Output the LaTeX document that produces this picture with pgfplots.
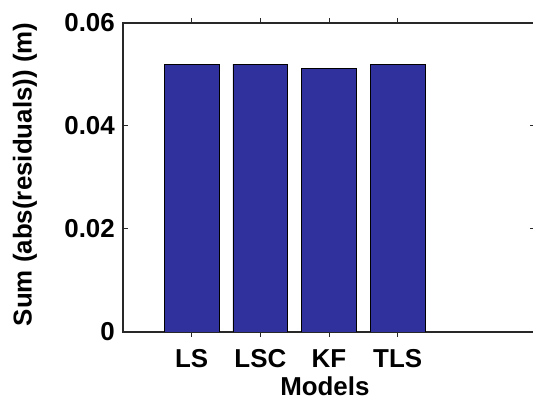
\documentclass[border=0pt]{standalone}
\usepackage{pgfplots}
\pgfplotsset{compat=1.18}
\usepackage{fontspec}
\setmainfont{Liberation Sans}
\definecolor{barblue}{RGB}{49,49,158}
\definecolor{axgray}{RGB}{40,40,40}
\begin{document}
\begin{tikzpicture}
\begin{axis}[
  name=ax,
  scale only axis,
  width=412bp, height=309bp,
  xmin=0, xmax=6,
  ymin=0, ymax=0.06,
  xtick={1,2,3,4},
  xticklabels={LS,LSC,KF,TLS},
  ytick={0,0.02,0.04,0.06},
  yticklabels={0,0.02,0.04,0.06},
  scaled y ticks=false,
  tick align=inside,
  major tick length=5bp,
  tick style={axgray, line width=1bp},
  axis line style={axgray, line width=1.3bp},
  ybar,
  bar width=0.8,
  font=\fontsize{26}{30}\selectfont\bfseries,
  xticklabel style={anchor=north, inner sep=0pt, yshift=-12bp},
  yticklabel style={anchor=east, inner sep=0pt, xshift=-8bp},
  xlabel={Models},
  ylabel={Sum (abs(residuals)) (m)},
  xlabel style={at={(axis description cs:0.49,0)}, anchor=north, inner sep=0pt, yshift=-45bp},
  ylabel style={at={(axis description cs:0,0.51)}, anchor=center, inner sep=0pt, yshift=98bp},
]
\addplot[fill=barblue, draw=black, line width=0.6bp] coordinates {(1,0.0520) (2,0.0520) (3,0.0512) (4,0.0520)};
\end{axis}
\pgfresetboundingbox
\path[use as bounding box] ([xshift=-123bp,yshift=-71bp]ax.south west) rectangle ([xshift=-2bp,yshift=23bp]ax.north east);
\end{tikzpicture}
\end{document}
